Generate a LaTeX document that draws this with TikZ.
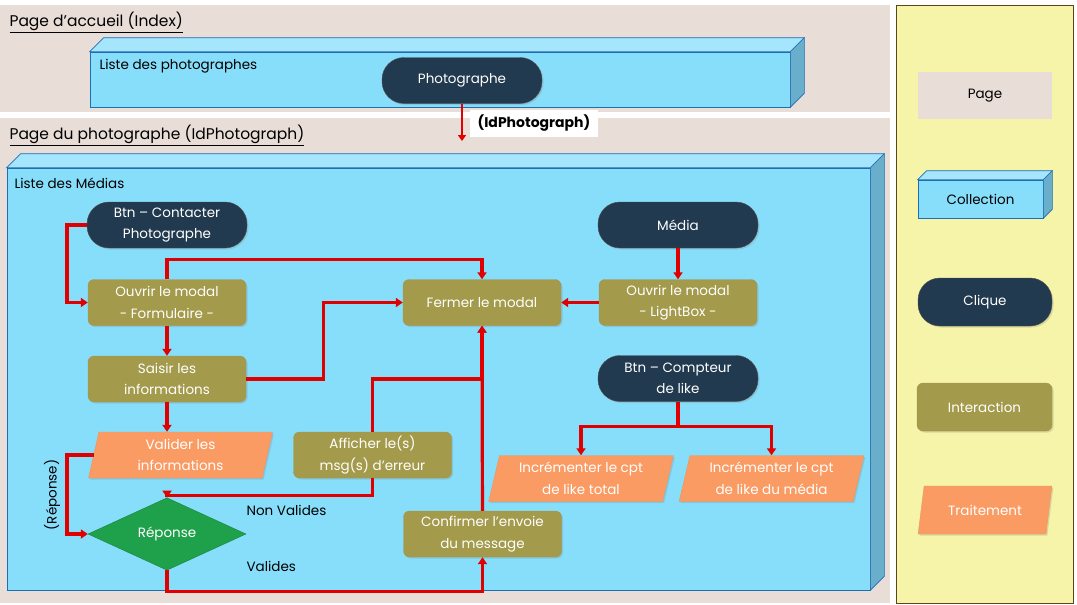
\documentclass[tikz,border=0pt]{standalone}
\usepackage{fontspec}
\setmainfont{Poppins}
\usepackage{xcolor}
\usetikzlibrary{arrows.meta,positioning,calc,shapes.geometric,shadows}

\definecolor{pagecol}{RGB}{233,221,215}
\definecolor{legendcol}{RGB}{246,244,168}
\definecolor{legendedge}{RGB}{90,70,30}
\definecolor{collfront}{RGB}{135,222,251}
\definecolor{colltop}{RGB}{165,230,252}
\definecolor{collside}{RGB}{105,174,203}
\definecolor{colledge}{RGB}{30,110,180}
\definecolor{cliquecol}{RGB}{33,58,79}
\definecolor{intercol}{RGB}{163,154,75}
\definecolor{traitcol}{RGB}{250,155,100}
\definecolor{decicol}{RGB}{31,161,75}
\definecolor{arrowred}{RGB}{224,0,0}

% faces of a 3D collection box
\newcommand{\collfaces}[2]{%
  \filldraw[fill=colltop, draw=colledge, line width=0.6pt] (#1.north west) -- ++(#2,-#2) -- ($(#1.north east)+(#2,-#2)$) -- (#1.north east) -- cycle;
  \filldraw[fill=collside, draw=colledge, line width=0.6pt] (#1.north east) -- ++(#2,-#2) -- ($(#1.south east)+(#2,-#2)$) -- (#1.south east) -- cycle;
}

\begin{document}
\begin{tikzpicture}[
		x=1pt, y=-1pt,
		every node/.style={font=\fontsize{13.5}{21.5}\selectfont},
		titletext/.style={anchor=west, font=\fontsize{15.5}{17}\selectfont},
		plaintext/.style={anchor=west},
		collbox/.style={
			rectangle,
			fill=collfront,
			draw=colledge,
			line width=0.6pt,
			inner sep=0pt
		},
		cliquebox/.style={
			rectangle,
			rounded corners=22pt,
			fill=cliquecol,
			draw=cliquecol!70!brown,
			text=white,
			minimum width=160pt,
			minimum height=46pt,
			align=center,
			drop shadow={opacity=0.25, shadow xshift=1.5pt, shadow yshift=-1.5pt}
		},
		interbox/.style={
			rectangle,
			rounded corners=6pt,
			fill=intercol,
			draw=intercol!80!brown,
			text=white,
			minimum width=158pt,
			minimum height=46pt,
			align=center,
			drop shadow={opacity=0.25, shadow xshift=1.5pt, shadow yshift=-1.5pt}
		},
		traitbox/.style={
			trapezium,
			trapezium left angle=78,
			trapezium right angle=102,
			trapezium stretches=true,
			fill=traitcol,
			draw=traitcol!80!brown,
			text=white,
			minimum width=185pt,
			minimum height=46pt,
			inner xsep=0pt,
			align=center,
			drop shadow={opacity=0.25, shadow xshift=1.5pt, shadow yshift=-1.5pt}
		},
		decisionbox/.style={
			diamond,
			fill=decicol,
			draw=decicol!80!black,
			text=white,
			minimum width=158pt,
			minimum height=48pt,
			inner sep=0pt
		},
		arrow/.style={
			-{Triangle[length=7pt,width=9pt]},
			draw=arrowred,
			line width=3.2pt
		}
		]
		
		\useasboundingbox (0,0) rectangle (1077,605);
		
		% pages and legend panel
		\fill[pagecol] (0,5) rectangle (890,112);
		\fill[pagecol] (0,118) rectangle (890,603);
		\filldraw[fill=legendcol, draw=legendedge, line width=0.8pt] (896,5) rectangle (1073,603);
		
		\node[titletext] (titreIndex) at (6,22) {\underline{Page d’accueil (Index)}};
		\node[titletext] (titrePhoto) at (6,135) {\underline{Page du photographe (IdPhotograph)}};
		
		% collections
		\node[collbox, minimum width=700pt, minimum height=55pt] (listePhoto) at (440,79.5) {};
		\collfaces{listePhoto}{14}
		\node[plaintext] (lblPhoto) at (96,66) {Liste des photographes};
		
		\node[collbox, minimum width=863pt, minimum height=422pt] (listeMedia) at (438.5,379) {};
		\collfaces{listeMedia}{14}
		\node[plaintext] (lblMedia) at (11,183) {Liste des Médias};
		
		% index
		\node[cliquebox] (photographe) at (462,80.5) {Photographe};
		\coordinate (entree) at (462,141);
		\draw[-{Triangle[length=6pt,width=8pt]}, draw=arrowred, line width=2.4pt] (photographe) -- (entree);
		\node[fill=white, font=\bfseries\fontsize{14}{15}\selectfont, minimum height=27pt, minimum width=128pt] (idPhoto) at (534,123.5) {(IdPhotograph)};
		
		% contact form
		\node[cliquebox] (btnContact) at (167,225) {Btn – Contacter\\Photographe};
		\node[interbox] (ouvrirForm) at (167,302.5) {Ouvrir le modal\\- Formulaire -};
		\node[interbox] (saisir) at (167,379) {Saisir les\\informations};
		\node[traitbox, trapezium left angle=82, trapezium right angle=98] (valider) at (180.5,455) {Valider les\\informations};
		\node[decisionbox] (reponse) at (167,534) {Réponse};
		\node[interbox] (afficher) at (372.5,455) {Afficher le(s)\\msg(s) d’erreur};
		\node[interbox] (confirmer) at (482.5,534) {Confirmer l’envoie\\du message};
		\node[interbox] (fermer) at (482,302.5) {Fermer le modal};
		
		% media
		\node[cliquebox] (media) at (678,225) {Média};
		\node[interbox] (ouvrirBox) at (678,302.5) {Ouvrir le modal\\- LightBox -};
		\node[cliquebox] (compteur) at (678,378.5) {Btn – Compteur\\de like};
		\node[traitbox] (incrTotal) at (581,478.5) {Incrémenter le cpt\\de like total};
		\node[traitbox] (incrMedia) at (771.5,478.5) {Incrémenter le cpt\\de like du média};
		
		\coordinate (rail) at (67,0);
		
		\draw[arrow] (btnContact.west) -- (btnContact.west -| rail) |- (ouvrirForm.west);
		\draw[arrow] (ouvrirForm) -- (saisir);
		\draw[arrow] (ouvrirForm.north) -- ++(0,-20) -| (fermer.north);
		\draw[arrow] (saisir.east) -- ++(77,0) |- (fermer.west);
		\draw[arrow] (saisir.south) -- (saisir.south |- valider.north);
		\draw[arrow] (valider.west) -- (valider.west -| rail) |- (reponse.west);
		\draw[arrow] (reponse.south) -- ++(0,21) -| (confirmer.south);
		\draw[arrow] (confirmer) -- (fermer);
		\draw[arrow] (afficher.north) |- (saisir.east -| fermer.south) -- (fermer.south);
		\draw[arrow] (afficher.south) -- ++(0,17) -| (reponse.north);
		\draw[arrow] (media) -- (ouvrirBox);
		\draw[arrow] (ouvrirBox) -- (fermer);
		\draw[arrow] (compteur.south) -- ++(0,25) -| (incrTotal.north);
		\draw[arrow] (compteur.south) -- ++(0,25) -| (incrMedia.north);
		
		\node[rotate=90] (lblReponse) at (52,495) {(Réponse)};
		\node[plaintext] (lblNonValides) at (243,510) {Non Valides};
		\node[plaintext] (lblValides) at (243,566) {Valides};
		
		% legend
		\node[rectangle, fill=pagecol, minimum width=134pt, minimum height=47pt] (legPage) at (985,95.5) {Page};
		\node[collbox, minimum width=125pt, minimum height=38pt] (legColl) at (980.5,199) {Collection};
		\collfaces{legColl}{9}
		\node[cliquebox, minimum width=134pt, minimum height=48pt] (legClique) at (985,302) {Clique};
		\node[interbox, minimum width=135pt, minimum height=48pt] (legInter) at (984.5,407) {Interaction};
		\node[traitbox, minimum width=134pt, minimum height=48pt] (legTrait) at (985,510) {Traitement};
		
	\end{tikzpicture}
\end{document}
